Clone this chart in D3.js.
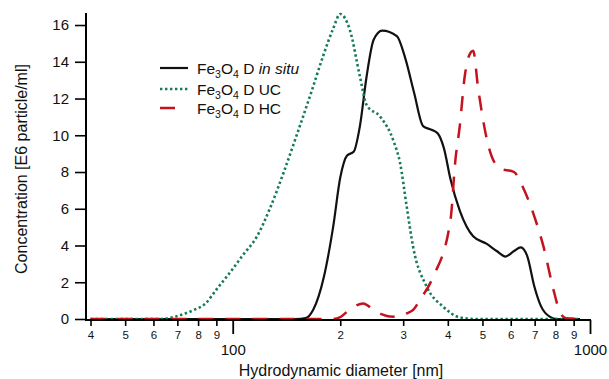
<!DOCTYPE html>
<html><head><meta charset="utf-8">
<script src="https://cdn.jsdelivr.net/npm/d3@7"></script>
<style>
body{margin:0;background:#fff}
svg{display:block;font-family:"Liberation Sans",Arial,Helvetica,sans-serif}
</style>
</head><body><svg id="c" width="609" height="379"></svg>
<script>
// ---- data ----
const insituD = [40,150,160,168,180,191,200,209,218,227,237,248,262,288,304,322,341,360,375,390,407,432,471,513,548,580,613,640,668,698,729,771,810,938];
const insituV = [0,0,0.05,0.5,2.3,5.0,7.7,8.9,9.1,10.5,13.2,15.2,15.7,15.4,14.2,12.3,10.5,10.3,10.1,9.3,7.6,5.9,4.5,4.1,3.7,3.4,3.7,3.9,3.4,1.8,0.7,0.13,0,0];

const ucD = [40,62,65,71,78,84,90,98,107,117,127,139,151,165,179,191,200,213,227,237,259,283,294,307,320,349,388,432,480,938];
const ucV = [0,0,0.02,0.2,0.5,0.85,1.6,2.5,3.5,4.5,6.0,8.0,10.0,12.2,14.3,15.8,16.6,15.7,13.2,11.65,11.0,9.6,8.5,6.1,3.9,1.76,0.67,0.09,0,0];

const hcD = [40,190,200,209,220,232,240,248,262,275,290,307,320,334,364,407,420,432,446,458,471,486,517,559,613,648,698,742,790,827,858,938];
const hcV = [0,0,0.1,0.4,0.7,0.85,0.7,0.49,0.25,0.13,0.12,0.31,0.5,1.03,2.3,5.4,8.65,10.5,13.2,14.3,14.6,12.6,9.6,8.2,8.0,7.2,5.6,3.9,1.6,0.31,0.04,0];

const yTicks = [0,2,4,6,8,10,12,14,16];
const xMinorTicks = [40,50,60,70,80,90,200,300,400,500,600,700,800,900];
const xMajorTicks = [100,1000];
const legendLabels = ["in situ","UC","HC"];
const yTitle = "Concentration [E6 particle/ml]";
const xTitle = "Hydrodynamic diameter [nm]";

// ---- chart ----
const svg = d3.select("#c");
const x = d3.scaleLog().domain([38.85,1000]).range([86,590]);
const y = d3.scaleLinear().domain([0,16.6]).range([319,14]);

const series = [
  {d: insituD, v: insituV, color:"#111", width:2.2, dash:null},
  {d: ucD, v: ucV, color:"#157a5c", width:2.6, dash:"2.4,2.6"},
  {d: hcD, v: hcV, color:"#c4121f", width:2.5, dash:"15,12"}
];

const line = d3.line().x(p=>x(p[0])).y(p=>y(p[1])).curve(d3.curveMonotoneX);
series.forEach(s=>{
  const pts = s.d.map((d,i)=>[d,s.v[i]]);
  svg.append("path").attr("d", line(pts)).attr("fill","none")
    .attr("stroke", s.color).attr("stroke-width", s.width)
    .attr("stroke-dasharray", s.dash).attr("stroke-linejoin","round");
});

// y axis
const yAx = svg.append("g").attr("transform","translate(86,0)")
  .call(d3.axisLeft(y).tickValues(yTicks).tickSize(11).tickPadding(6).tickSizeOuter(0));
yAx.select(".domain").attr("stroke","#000").attr("stroke-width",2).attr("d","M0,13V320.5");
yAx.selectAll(".tick line").attr("stroke","#000").attr("stroke-width",1.6);
yAx.selectAll("text").attr("font-size","15px").attr("fill","#111").attr("font-family","Liberation Sans, Arial, sans-serif");

// x axis minor
const xMin = svg.append("g").attr("transform","translate(0,320)")
  .call(d3.axisBottom(x).tickValues(xMinorTicks).tickSize(6).tickPadding(5).tickSizeOuter(0)
    .tickFormat(d=>String(d).charAt(0)));
xMin.select(".domain").attr("stroke","#000").attr("stroke-width",2).attr("d","M85,0H591");
xMin.selectAll(".tick line").attr("stroke","#000").attr("stroke-width",1.6);
xMin.selectAll("text").attr("font-size","11.5px").attr("fill","#111").attr("font-family","Liberation Sans, Arial, sans-serif");

// x axis major
const xMaj = svg.append("g").attr("transform","translate(0,320)")
  .call(d3.axisBottom(x).tickValues(xMajorTicks).tickSize(14).tickPadding(10).tickSizeOuter(0)
    .tickFormat(d3.format("d")));
xMaj.select(".domain").remove();
xMaj.selectAll(".tick line").attr("stroke","#000").attr("stroke-width",1.8);
xMaj.selectAll("text").attr("font-size","15px").attr("fill","#111").attr("font-family","Liberation Sans, Arial, sans-serif");

// titles
svg.append("text").attr("transform","translate(27,169) rotate(-90)")
  .attr("text-anchor","middle").attr("font-size","16px").attr("fill","#111").text(yTitle);
svg.append("text").attr("x",341).attr("y",376)
  .attr("text-anchor","middle").attr("font-size","16px").attr("fill","#111").text(xTitle);

// legend
const lg = svg.append("g");
const rowLine = [68,89,108];
const rowBase = [74,95,114];
series.forEach((s,i)=>{
  lg.append("line").attr("x1",160).attr("x2", i===2 ? 176 : 188).attr("y1",rowLine[i]).attr("y2",rowLine[i])
    .attr("stroke",s.color).attr("stroke-width",s.width).attr("stroke-dasharray",s.dash);
  const t = lg.append("text").attr("x",197).attr("y",rowBase[i]).attr("font-size","15.5px").attr("fill","#111");
  t.append("tspan").text("Fe");
  t.append("tspan").attr("dy",4).attr("font-size","10.5px").text("3");
  t.append("tspan").attr("dy",-4).text("O");
  t.append("tspan").attr("dy",4).attr("font-size","10.5px").text("4");
  t.append("tspan").attr("dy",-4).text(" D ");
  t.append("tspan").attr("font-style", i===0 ? "italic" : "normal").text(legendLabels[i]);
});
</script>
</body></html>
